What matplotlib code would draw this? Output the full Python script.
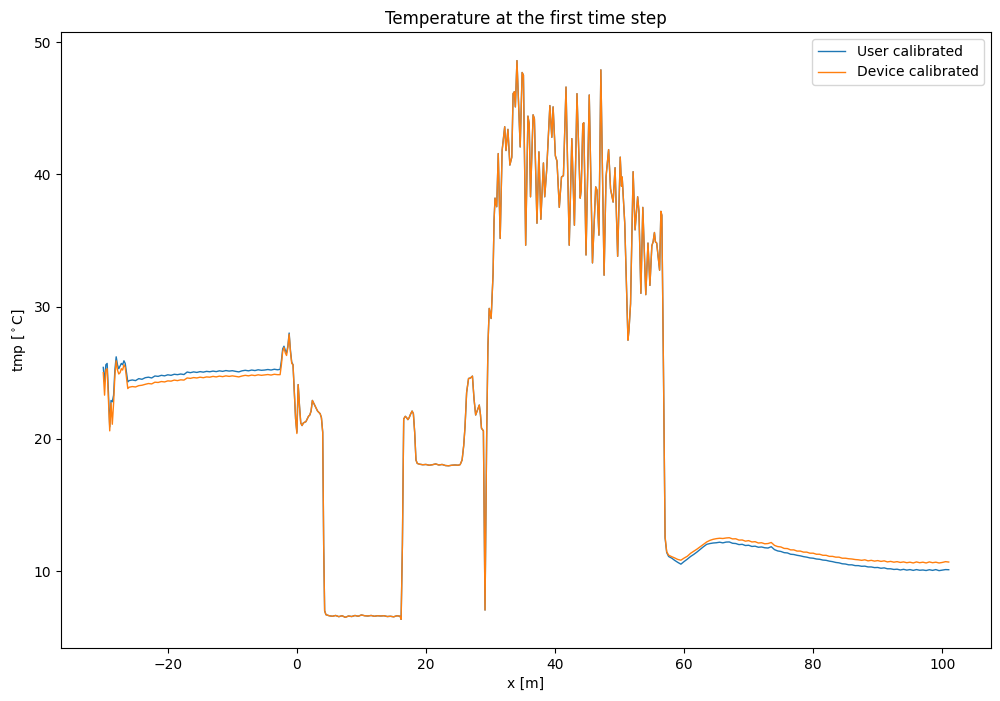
import matplotlib
matplotlib.use("Agg")
import matplotlib.pyplot as plt

# ---- data ----
x_west = [-30.0, -29.8, -29.6, -29.4, -29.2, -29.0, -28.8, -28.6, -28.4, -28.2, -28.0,
          -27.8, -27.6, -27.4, -27.2, -27.0, -26.8, -26.6, -26.4, -26.2, -26.0,
          -25.5, -25.0, -24.5, -24.0, -23.5, -23.0, -22.5, -22.0, -21.5, -21.0,
          -20.5, -20.0, -19.5, -19.0, -18.5, -18.0, -17.5, -17.0, -16.5, -16.0,
          -15.5, -15.0, -14.5, -14.0, -13.5, -13.0, -12.5, -12.0, -11.5, -11.0,
          -10.5, -10.0, -9.5, -9.0, -8.5, -8.0, -7.5, -7.0, -6.5, -6.0,
          -5.5, -5.0, -4.5, -4.0, -3.5, -3.0]
user_west = [25.4, 24.3, 25.6, 25.7, 23.5, 20.9, 22.9, 22.8, 23.3, 25.2, 26.2,
             25.6, 25.3, 25.5, 25.7, 25.6, 25.9, 25.7, 25.0, 24.3, 24.4,
             24.45, 24.40, 24.55, 24.50, 24.62, 24.66, 24.60, 24.75, 24.72, 24.80,
             24.76, 24.84, 24.80, 24.88, 24.85, 24.90, 24.86, 25.05, 25.00, 25.06,
             25.02, 25.08, 25.04, 25.10, 25.07, 25.12, 25.08, 25.14, 25.10, 25.16,
             25.12, 25.15, 25.10, 25.06, 25.14, 25.18, 25.14, 25.20, 25.16, 25.22,
             25.18, 25.20, 25.24, 25.20, 25.26, 25.22]
device_west = [25.0, 23.3, 25.2, 25.3, 23.0, 20.6, 22.7, 21.1, 22.7, 24.8, 25.9,
               25.2, 24.9, 25.0, 25.3, 25.2, 25.6, 25.4, 24.6, 23.8, 23.9,
               23.95, 23.92, 24.02, 24.05, 24.12, 24.18, 24.15, 24.28, 24.26, 24.33,
               24.30, 24.38, 24.36, 24.44, 24.40, 24.46, 24.44, 24.60, 24.57, 24.63,
               24.60, 24.66, 24.62, 24.68, 24.66, 24.72, 24.68, 24.74, 24.70, 24.76,
               24.72, 24.76, 24.72, 24.68, 24.75, 24.80, 24.76, 24.82, 24.78, 24.84,
               24.80, 24.83, 24.86, 24.82, 24.88, 24.85]

x_mid = [-2.6, -2.4, -2.2, -2.0, -1.8, -1.6, -1.4, -1.2, -1.0, -0.8, -0.6, -0.4, -0.2,
         0.0, 0.2, 0.4, 0.6, 0.8, 1.0, 1.4, 1.8, 2.0, 2.2, 2.4, 2.6, 2.8, 3.0, 3.2,
         3.4, 3.6, 3.8, 4.0, 4.15, 4.3,
         4.5, 5.0, 5.5, 6.0, 6.5, 7.0, 7.5, 8.0, 8.5, 9.0, 9.5, 10.0, 10.5, 11.0,
         11.5, 12.0, 12.5, 13.0, 13.5, 14.0, 14.5, 15.0, 15.5, 16.0, 16.15, 16.35,
         16.55, 16.8, 17.0, 17.2, 17.4, 17.6, 17.85, 18.05, 18.25, 18.45, 18.65,
         19.0, 19.5, 20.0, 20.5, 21.0, 21.5, 22.0, 22.5, 23.0, 23.5, 24.0, 24.5,
         25.0, 25.3, 25.6, 25.85, 26.05, 26.3, 26.6, 26.9, 27.2, 27.45, 27.7, 28.0,
         28.26, 28.45, 28.6, 28.9, 29.15, 29.4, 29.6,
         29.8, 30.1, 30.4, 30.55, 30.7, 30.96, 31.2, 31.5, 31.8, 32.2,
         32.4, 32.7, 33.0, 33.3, 33.5, 33.7, 33.85, 34.1, 34.6, 34.9,
         35.1, 35.45, 35.8, 36.0, 36.2, 36.6, 36.8, 37.2, 37.5, 37.8,
         38.2, 38.4, 38.7, 39.2, 39.5, 39.7, 40.05, 40.3, 40.66, 41.0,
         41.3, 41.7, 42.2, 42.6, 43.0, 43.4, 43.9, 44.05, 44.3, 44.45,
         44.8, 45.3, 45.8, 46.3, 46.5, 46.8, 47.1, 47.6, 47.9, 48.3,
         48.6, 49.0, 49.3, 49.7, 50.1, 50.3, 50.4, 50.8, 51.3, 51.45,
         51.7, 52.1, 52.4, 52.8, 53.0, 53.3, 53.6, 54.06, 54.4, 54.7,
         55.0, 55.2, 55.4, 55.55, 55.75, 56.2, 56.4, 56.55, 56.8, 57.05,
         57.3, 57.6, 58.1, 58.5]
user_mid = [25.25, 25.9, 26.8, 27.0, 26.7, 26.5, 27.0, 28.0, 26.7, 25.8, 25.6, 23.5, 21.5,
            20.5, 24.1, 22.5, 21.2, 21.0, 21.2, 21.3, 21.7, 21.8, 22.1, 22.9, 22.7, 22.5, 22.3, 22.1,
            22.0, 21.9, 21.6, 20.5, 12.0, 7.0,
            6.70, 6.62, 6.58, 6.64, 6.55, 6.62, 6.50, 6.60, 6.56, 6.64, 6.58, 6.68, 6.62, 6.60,
            6.64, 6.58, 6.62, 6.60, 6.62, 6.56, 6.58, 6.54, 6.62, 6.58, 6.35, 12.0,
            21.5, 21.7, 21.6, 21.45, 21.6, 21.85, 22.1, 21.9, 20.5, 18.4, 18.14,
            18.08, 18.04, 18.06, 18.00, 18.04, 18.10, 18.02, 18.06, 17.98, 17.96, 18.00, 18.02,
            18.00, 18.05, 18.4, 19.5, 20.9, 23.5, 24.56, 24.6, 24.74, 23.0, 21.8, 22.2,
            22.55, 21.8, 20.8, 20.6, 7.05, 20.0, 27.0,
            29.86, 29.1, 32.5, 36.5, 38.2, 37.55, 41.57, 35.15, 41.8, 43.6,
            41.8, 43.4, 40.7, 41.3, 46.1, 46.25, 45.1, 48.6, 42.07, 47.7,
            47.5, 34.64, 44.4, 43.8, 38.3, 44.5, 44.2, 36.3, 41.7, 36.6,
            40.86, 38.3, 40.3, 45.2, 42.8, 45.1, 41.4, 41.0, 37.5, 39.8,
            39.9, 46.6, 34.64, 42.7, 36.15, 46.1, 38.2, 38.8, 43.8, 43.9,
            33.9, 46.0, 33.3, 39.05, 38.8, 35.4, 47.9, 32.37, 39.8, 41.87,
            38.9, 37.9, 40.5, 33.8, 41.3, 39.1, 39.8, 36.3, 27.46, 28.2,
            30.2, 40.2, 35.8, 38.3, 37.2, 31.0, 37.5, 30.9, 34.8, 31.6,
            34.6, 34.9, 35.6, 34.9, 34.8, 32.75, 37.2, 36.9, 25.2, 12.5,
            11.4, 11.1, 10.97, 10.82]
device_mid = [24.85, 25.6, 26.6, 26.9, 26.5, 26.3, 26.9, 27.9, 26.6, 25.7, 25.6, 23.5, 21.5,
              20.4, 24.1, 22.5, 21.2, 21.0, 21.2, 21.3, 21.7, 21.8, 22.1, 22.9, 22.7, 22.5, 22.3, 22.1,
              22.0, 21.9, 21.6, 20.5, 12.0, 7.0,
              6.70, 6.62, 6.58, 6.64, 6.55, 6.62, 6.50, 6.60, 6.56, 6.64, 6.58, 6.68, 6.62, 6.60,
              6.64, 6.58, 6.62, 6.60, 6.62, 6.56, 6.58, 6.54, 6.62, 6.58, 6.35, 12.0,
              21.5, 21.7, 21.6, 21.45, 21.6, 21.85, 22.1, 21.9, 20.5, 18.4, 18.14,
              18.08, 18.04, 18.06, 18.00, 18.04, 18.10, 18.02, 18.06, 17.98, 17.96, 18.00, 18.02,
              18.00, 18.05, 18.4, 19.5, 20.9, 23.5, 24.56, 24.6, 24.74, 23.0, 21.8, 22.2,
              22.55, 21.8, 20.8, 20.6, 7.05, 20.0, 27.0,
              29.86, 29.1, 32.5, 36.5, 38.2, 37.55, 41.57, 35.15, 41.8, 43.6,
              41.8, 43.4, 40.7, 41.3, 46.1, 46.25, 45.1, 48.6, 42.07, 47.7,
              47.5, 34.64, 44.4, 43.8, 38.3, 44.5, 44.2, 36.3, 41.7, 36.6,
              40.86, 38.3, 40.3, 45.2, 42.8, 45.1, 41.4, 41.0, 37.5, 39.8,
              39.9, 46.6, 34.64, 42.7, 36.15, 46.1, 38.2, 38.8, 43.8, 43.9,
              33.9, 46.0, 33.3, 39.05, 38.8, 35.4, 47.9, 32.37, 39.8, 41.87,
              38.9, 37.9, 40.5, 33.8, 41.3, 39.1, 39.8, 36.3, 27.46, 28.2,
              30.2, 40.2, 35.8, 38.3, 37.2, 31.0, 37.5, 30.9, 34.8, 31.6,
              34.6, 34.9, 35.6, 34.9, 34.8, 32.75, 37.2, 36.9, 25.2, 12.6,
              11.46, 11.2, 11.08, 11.0]

x_east = [59.0, 59.5, 60.0, 60.5, 61.0, 61.5, 62.0, 62.5, 63.0, 63.5, 64.0, 64.5,
          65.0, 65.5, 66.0, 66.5, 67.0, 67.5, 68.0, 68.5, 69.0, 69.5, 70.0, 70.5,
          71.0, 71.5, 72.0, 72.5, 73.0, 73.5, 74.0, 74.5, 75.0, 75.5, 76.0, 76.5,
          77.0, 77.5, 78.0, 78.5, 79.0, 79.5, 80.0, 80.5, 81.0, 81.5, 82.0, 82.5,
          83.0, 83.5, 84.0, 84.5, 85.0, 85.5, 86.0, 86.5, 87.0, 87.5, 88.0, 88.5,
          89.0, 89.5, 90.0, 90.5, 91.0, 91.5, 92.0, 92.5, 93.0, 93.5, 94.0, 94.5,
          95.0, 95.5, 96.0, 96.5, 97.0, 97.5, 98.0, 98.5, 99.0, 99.5, 100.0, 100.5, 101.0]
user_east = [10.66, 10.52, 10.72, 10.90, 11.10, 11.26, 11.44, 11.64, 11.84, 12.02, 12.08, 12.12,
             12.14, 12.18, 12.13, 12.19, 12.20, 12.10, 12.08, 12.00, 12.02, 11.93, 11.95, 11.86,
             11.88, 11.80, 11.82, 11.76, 11.74, 11.84, 11.62, 11.52, 11.48, 11.39, 11.37, 11.27,
             11.25, 11.19, 11.15, 11.09, 11.05, 10.99, 10.97, 10.91, 10.89, 10.83, 10.81, 10.75,
             10.71, 10.65, 10.62, 10.55, 10.53, 10.47, 10.47, 10.41, 10.41, 10.36, 10.37, 10.31,
             10.31, 10.26, 10.27, 10.21, 10.24, 10.17, 10.17, 10.12, 10.14, 10.08, 10.13, 10.07,
             10.11, 10.05, 10.11, 10.06, 10.08, 10.04, 10.10, 10.05, 10.11, 10.03, 10.07, 10.11, 10.10]
device_east = [10.88, 10.82, 10.98, 11.12, 11.34, 11.50, 11.66, 11.84, 12.02, 12.20, 12.32, 12.40,
               12.45, 12.48, 12.46, 12.50, 12.52, 12.43, 12.44, 12.34, 12.35, 12.26, 12.30, 12.20,
               12.22, 12.12, 12.14, 12.06, 12.08, 12.16, 11.94, 11.85, 11.82, 11.71, 11.70, 11.60,
               11.60, 11.51, 11.51, 11.43, 11.43, 11.35, 11.35, 11.27, 11.27, 11.19, 11.19, 11.11,
               11.11, 11.05, 11.05, 10.97, 10.97, 10.93, 10.91, 10.87, 10.85, 10.81, 10.85, 10.77,
               10.81, 10.75, 10.79, 10.73, 10.77, 10.69, 10.73, 10.67, 10.71, 10.65, 10.69, 10.63,
               10.67, 10.61, 10.69, 10.63, 10.67, 10.61, 10.69, 10.63, 10.67, 10.61, 10.65, 10.71, 10.68]

x_pos = x_west + x_mid + x_east
user_tmp = user_west + user_mid + user_east
device_tmp = device_west + device_mid + device_east

# ---- figure ----
fig = plt.figure(figsize=(10, 7.01), dpi=100)
ax = fig.add_axes([0.061, 0.0756, 0.930, 0.8787])
ax.plot(x_pos, user_tmp, color="tab:blue", linewidth=1.0, label="User calibrated")
ax.plot(x_pos, device_tmp, color="tab:orange", linewidth=1.0, label="Device calibrated")
ax.set_xlim(-36.55, 107.55)
ax.set_ylim(4.18, 50.76)
ax.set_xticks([-20, 0, 20, 40, 60, 80, 100])
ax.set_yticks([10, 20, 30, 40, 50])
ax.set_title("Temperature at the first time step")
ax.set_xlabel("x [m]")
ax.set_ylabel(r"tmp [$^\circ$C]")
ax.legend(loc="upper right")
fig.savefig("out.png", dpi=100)
